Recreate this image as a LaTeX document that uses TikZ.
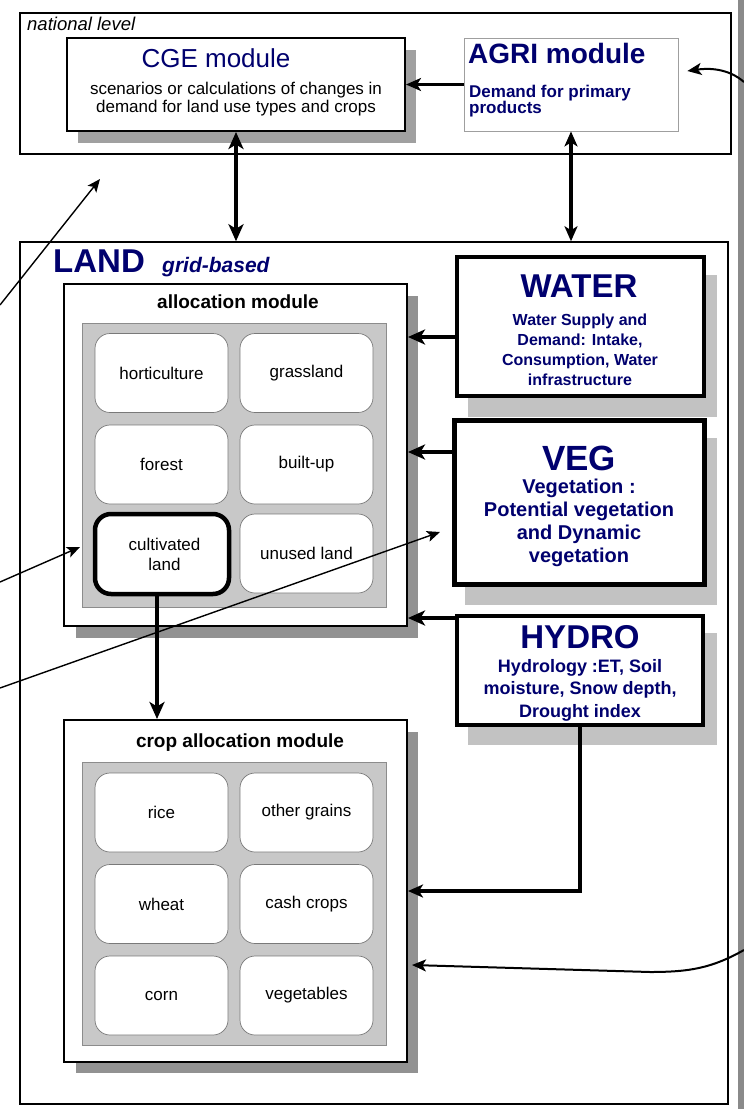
\documentclass[tikz,border=0pt]{standalone}
\usepackage{fontspec}
\setmainfont{Liberation Sans}
\usetikzlibrary{arrows.meta,calc}
\definecolor{navy}{RGB}{0,0,110}
\definecolor{shadowdark}{RGB}{146,146,146}
\definecolor{shadowmid}{RGB}{160,160,160}
\definecolor{shadowlight}{RGB}{194,194,194}
\definecolor{panelgray}{RGB}{200,200,200}
\definecolor{edgebar}{RGB}{138,138,138}
\newcommand{\fsz}[2]{\fontsize{#1}{#2}\selectfont}
\begin{document}
\begin{tikzpicture}[x=1pt,y=-1pt,
  frame/.style={draw, line width=1.5pt, fill=white, inner sep=0pt},
  module/.style={draw, line width=2pt, fill=white, inner sep=0pt},
  heavy/.style={draw, line width=4.5pt, fill=white, inner sep=0pt},
  panel/.style={draw=gray!90, line width=0.6pt, fill=panelgray, inner sep=0pt},
  cell/.style={draw=gray!95!black, line width=0.7pt, fill=white, rounded corners=15pt,
    minimum width=133pt, minimum height=79pt, inner sep=0pt, align=center, font=\fsz{17}{20}},
  title/.style={font=\bfseries\fsz{33}{33}, text=navy, inner sep=0pt},
  note/.style={font=\bfseries, text=navy, align=center, inner sep=0pt},
  fatarrow/.style={line width=4.5pt, -{Stealth[length=17pt,width=15pt,inset=4.5pt]}},
  midarrow/.style={line width=3.2pt, -{Stealth[length=15pt,width=13pt,inset=4pt]}},
  thinarrow/.style={line width=1.4pt, -{Stealth[length=13pt,width=11pt,inset=3pt]}},
  bentarrow/.style={line width=2pt, -{Stealth[length=14pt,width=12pt,inset=3.5pt]}}]

\useasboundingbox (0,0) rectangle (744,1109);
\fill[white] (0,0) rectangle (744,1109);

% grey rule along the right edge
\fill[edgebar] (738,0) rectangle (744,1109);

% national level frame
\node[frame, minimum width=711pt, minimum height=141pt] (national) at (375.5,83.5) {};
\node[anchor=base west, font=\itshape\fsz{18.5}{18.5}, inner sep=0pt] (natlabel) at (27,30) {national level};

% CGE module
\fill[shadowmid] (78,50) rectangle (416,143);
\node[module, minimum width=338pt, minimum height=93pt] (cge) at (236,84.5) {};
\node[anchor=base, font=\fsz{26}{26}, text=navy, inner sep=0pt] (cgetitle) at (216,67) {CGE module};
\node[align=center, font=\fsz{17}{17.5}, inner sep=0pt] (cgetext) at (236,99) {scenarios or calculations of changes in\\demand for land use types and crops};

% AGRI module
\node[draw=gray!75, line width=0.8pt, fill=white, inner sep=0pt, minimum width=214pt, minimum height=93pt] (agri) at (571,84.5) {};
\node[anchor=base west, font=\bfseries\fsz{28}{28}, text=navy, inner sep=0pt] (agrititle) at (468,63) {AGRI module};
\node[anchor=north west, align=left, font=\bfseries\fsz{17}{16}, text=navy, inner sep=0pt] (agritext) at (469,84.5) {Demand for primary\\products};

% LAND frame
\node[frame, minimum width=708pt, minimum height=862pt] (land) at (374,673) {};
\node[anchor=base west, font=\bfseries\fsz{33}{33}, text=navy, inner sep=0pt] (landtitle) at (53,272) {LAND};
\node[anchor=base west, font=\bfseries\itshape\fsz{21}{21}, text=navy, inner sep=0pt] (landsub) at (162,272) {grid-based};

% allocation module
\fill[shadowdark] (76,296) rectangle (418,638);
\node[module, minimum width=343pt, minimum height=342pt] (alloc) at (235.5,455) {};
\node[anchor=base, font=\bfseries\fsz{19}{19}, inner sep=0pt] (alloctitle) at (238,308) {allocation module};
\node[panel, minimum width=304pt, minimum height=284pt] (panelA) at (234,465) {};
\node[cell] (hort) at (161.5,373) {horticulture};
\node[cell] (grass) at (306.5,373) {grassland};
\node[cell] (forest) at (161.5,464.5) {forest};
\node[cell] (built) at (306.5,464.5) {built-up};
\node[cell, draw=black, line width=4.5pt, rounded corners=16pt, minimum width=134pt, minimum height=80pt] (cult) at (162,554) {\hspace{5pt}cultivated\\\hspace{5pt}land};
\node[cell] (unused) at (306.5,553.5) {unused land};

% crop allocation module
\fill[shadowdark] (76,732) rectangle (418,1073);
\node[module, minimum width=343pt, minimum height=342pt] (crop) at (235.5,891) {};
\node[anchor=base, font=\bfseries\fsz{19}{19}, inner sep=0pt] (croptitle) at (240,747) {crop allocation module};
\node[panel, minimum width=304pt, minimum height=283pt] (panelB) at (234,903.5) {};
\node[cell] (rice) at (161.5,812.5) {rice};
\node[cell] (othergr) at (306.5,812.5) {other grains};
\node[cell] (wheat) at (161.5,904) {wheat};
\node[cell] (cash) at (306.5,904) {cash crops};
\node[cell] (corn) at (161.5,995.5) {corn};
\node[cell] (veget) at (306.5,995.5) {vegetables};

% WATER
\fill[shadowlight] (468,275) rectangle (717,417);
\node[heavy, minimum width=247pt, minimum height=139pt] (water) at (580.5,326.5) {};
\node[title, anchor=base] (watertitle) at (579,297) {WATER};
\node[note, font=\bfseries\fsz{16}{20}] (watertext) at (580,350) {Water Supply and\\Demand: Intake,\\Consumption, Water\\infrastructure};

% VEG
\fill[shadowlight] (465,438) rectangle (717,605);
\node[heavy, line width=5pt, minimum width=250pt, minimum height=164pt] (veg) at (579,502) {};
\node[title, font=\bfseries\fsz{35}{35}, anchor=base] (vegtitle) at (579,470) {VEG};
\node[note, font=\bfseries\fsz{20}{23}] (vegtext) at (579,523) {Vegetation :\\Potential vegetation\\and Dynamic\\vegetation};

% HYDRO
\fill[shadowlight] (468,633) rectangle (717,745);
\node[heavy, line width=4pt, minimum width=246pt, minimum height=109pt] (hydro) at (580,670.5) {};
\node[title, anchor=base] (hydrotitle) at (580,648) {HYDRO};
\node[note, font=\bfseries\fsz{18}{22.5}] (hydrotext) at (580,690) {Hydrology :ET, Soil\\moisture, Snow depth,\\Drought index};

% links between the national modules and LAND
\draw[line width=4.5pt, {Stealth[length=17pt,width=15pt,inset=4.5pt]}-{Stealth[length=17pt,width=15pt,inset=4.5pt]}]
  (cge.south) -- (cge.south |- land.north);
\draw[line width=3.2pt, {Stealth[length=15pt,width=13pt,inset=4pt]}-{Stealth[length=15pt,width=13pt,inset=4pt]}]
  (agri.south) -- (agri.south |- land.north);
\draw[midarrow] (agri.west) -- (agri.west -| cge.east);

% biophysical drivers into the allocation modules
\draw[fatarrow] ([yshift=-10.5pt]water.west) -- ([yshift=-10.5pt]water.west -| alloc.east);
\draw[fatarrow] ([yshift=50pt]veg.west) -- ([yshift=50pt]veg.west -| alloc.east);
\draw[fatarrow] ([yshift=52.5pt]hydro.west) -- ([yshift=52.5pt]hydro.west -| alloc.east);
\draw[midarrow] (hydro.south) |- (crop.east);
\draw[fatarrow] ([xshift=-5pt]cult.south) -- ([xshift=-5pt]cult.south |- crop.north);

% links arriving from the right
\coordinate (inR1) at (744,82);
\coordinate (inR2) at (744,950);
\coordinate (bendR2) at (650,972);
\draw[bentarrow] (inR1) .. controls (728,68) and (708,68) .. ([xshift=9pt,yshift=13.5pt]agri.east);
\draw[bentarrow] (inR2) .. controls (712,968) and (690,972) .. (bendR2) -- ([xshift=4pt,yshift=-74pt]crop.east);

% links arriving from the left
\coordinate (inL1) at (0,305);
\coordinate (tipL1) at (100,179);
\coordinate (inL2) at (0,582);
\coordinate (tipL2) at (80,547);
\coordinate (inL3) at (0,688);
\coordinate (tipL3) at (440,532);
\draw[thinarrow] (inL1) -- (tipL1);
\draw[thinarrow] (inL2) -- (tipL2);
\draw[thinarrow] (inL3) -- (tipL3);
\end{tikzpicture}
\end{document}
